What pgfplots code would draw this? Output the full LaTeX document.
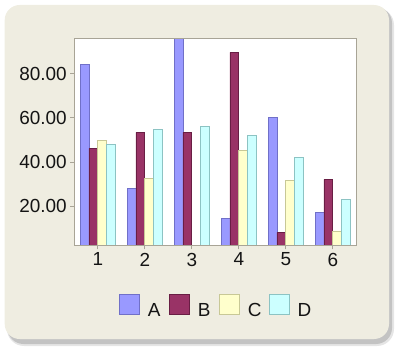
\documentclass[border=0pt]{standalone}
\usepackage{fontspec}
\setmainfont{Liberation Sans}
\usepackage{pgfplots}
\pgfplotsset{compat=1.18}
\definecolor{bgc}{RGB}{239,237,225}
\definecolor{axc}{RGB}{168,164,150}
\definecolor{cA}{RGB}{153,153,255}
\definecolor{cAe}{RGB}{112,112,200}
\definecolor{cB}{RGB}{153,51,102}
\definecolor{cBe}{RGB}{105,30,68}
\definecolor{cC}{RGB}{255,255,204}
\definecolor{cCe}{RGB}{200,200,150}
\definecolor{cD}{RGB}{204,255,255}
\definecolor{cDe}{RGB}{140,195,195}
\definecolor{txt}{RGB}{20,20,20}
\begin{document}
\begin{tikzpicture}[x=1bp,y=1bp]
\useasboundingbox (0,0) rectangle (400,350);
\fill[black,opacity=0.10,rounded corners=17bp] (7,4) rectangle (394,342);
\fill[black,opacity=0.15,rounded corners=16bp] (7.5,6) rectangle (392,343);
\fill[bgc,rounded corners=15bp] (4.7,11) rectangle (389,345);
\begin{axis}[
  at={(74.3bp,104.7bp)}, anchor=south west,
  scale only axis, width=282bp, height=207bp,
  xmin=0.5, xmax=6.5, ymin=2.2, ymax=96.1,
  axis background/.style={fill=white},
  axis line style={axc, line width=0.9bp},
  tick style={axc, line width=0.9bp},
  major tick length=4bp, tick align=outside, tick pos=left,
  xtick={1,2,3,4,5,6}, ytick={20,40,60,80},
  yticklabel style={/pgf/number format/.cd, fixed, fixed zerofill, precision=2},
  /pgf/number format/assume math mode=true,
  ticklabel style={font=\fontsize{19}{21}\selectfont, text=txt},
  axis on top,
  ybar, bar width=0.1875,
  legend columns=-1,
  legend style={at={(0.5,-0.293)}, anchor=center, draw=none, fill=none,
    inner sep=0pt, nodes={inner sep=0pt},
    font=\fontsize{19}{21}\selectfont, text=txt,
    /tikz/every odd column/.append style={column sep=7.6bp},
    /tikz/every even column/.append style={column sep=8bp}},
  legend image code/.code={\draw[#1, line width=0.9bp] (0bp,-3.2bp) rectangle (20bp,16.8bp);},
]
\addplot[fill=cA, draw=cAe, line width=0.9bp, bar shift=-0.28125] coordinates {(1,84.3) (2,28.0) (3,96.0) (4,14.4) (5,60.2) (6,17.1)};
\addplot[fill=cB, draw=cBe, line width=0.9bp, bar shift=-0.09375] coordinates {(1,46.2) (2,53.4) (3,53.4) (4,89.7) (5,8.1) (6,32.1)};
\addplot[fill=cC, draw=cCe, line width=0.9bp, bar shift=0.09375] coordinates {(1,49.8) (2,32.6) (3,2.2) (4,45.3) (5,31.7) (6,8.7)};
\addplot[fill=cD, draw=cDe, line width=0.9bp, bar shift=0.28125] coordinates {(1,48.0) (2,54.8) (3,56.1) (4,52.1) (5,42.1) (6,23.0)};
\legend{\makebox[13.4bp][l]{A},\makebox[13.4bp][l]{B},\makebox[13.4bp][l]{C},\makebox[13.4bp][l]{D}}
\end{axis}
\end{tikzpicture}
\end{document}
